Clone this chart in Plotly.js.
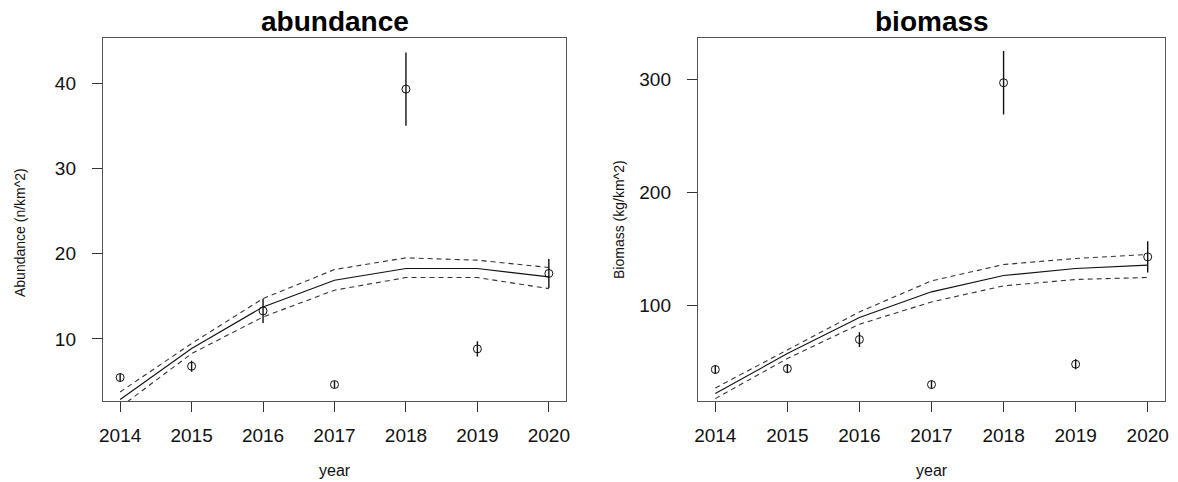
<!DOCTYPE html>
<html>
<head>
<meta charset="utf-8">
<script src="https://cdn.plot.ly/plotly-3.0.1.min.js"></script>
<style>html,body{margin:0;padding:0;background:#fff;}#chart{width:1178px;height:482px;}</style>
</head>
<body>
<div id="chart"></div>
<script>
// ---- data ----
const years = [2014, 2015, 2016, 2017, 2018, 2019, 2020];

// abundance panel
const abundObs    = [5.47, 6.8, 13.29, 4.65, 39.3, 8.83, 17.68];
const abundErr    = [0.5, 0.65, 1.43, 0.4, 4.3, 0.9, 1.7];
const abundFit    = [2.89, 8.87, 13.76, 16.89, 18.26, 18.26, 17.28];
const abundUpper  = [3.78, 9.46, 14.74, 18.14, 19.51, 19.24, 18.38];
const abundLower  = [2.0, 8.28, 12.58, 15.72, 17.2, 17.2, 15.9];

// biomass panel
const bioObs      = [43.5, 44.3, 70.0, 30.2, 296.8, 48.2, 143.0];
const bioErr      = [4, 4, 6.6, 3.5, 28, 4.5, 13.8];
const bioFit      = [22.3, 57.6, 89.4, 112.1, 126.5, 132.7, 135.7];
const bioUpper    = [27.2, 60.5, 94.4, 121.8, 136.2, 141.6, 145.1];
const bioLower    = [17.8, 53.2, 83.5, 103.2, 117.4, 123.0, 124.8];

const abundTicks = [10, 20, 30, 40];
const bioTicks = [100, 200, 300];

const panelTitles = ["abundance", "biomass"];
const yTitles = ["Abundance (n/km^2)", "Biomass (kg/km^2)"];
const xTitle = "year";

// ---- traces ----
function lineTrace(y, xa, ya, dash) {
  return {x: years, y: y, xaxis: xa, yaxis: ya, type: 'scatter', mode: 'lines',
    line: {color: dash ? '#333' : '#111', width: 1.1, dash: dash ? '5px,4px' : 'solid'},
    hoverinfo: 'skip', showlegend: false};
}
function obsTrace(y, err, xa, ya) {
  return {x: years, y: y, xaxis: xa, yaxis: ya, type: 'scatter', mode: 'markers',
    marker: {symbol: 'circle-open', size: 8, color: '#111', line: {width: 1, color: '#111'}},
    error_y: {type: 'data', array: err, visible: true, width: 0, thickness: 1.4, color: '#111'},
    cliponaxis: false, showlegend: false};
}
const data = [
  lineTrace(abundUpper, 'x', 'y', true),
  lineTrace(abundFit, 'x', 'y', false),
  lineTrace(abundLower, 'x', 'y', true),
  obsTrace(abundObs, abundErr, 'x', 'y'),
  lineTrace(bioUpper, 'x2', 'y2', true),
  lineTrace(bioFit, 'x2', 'y2', false),
  lineTrace(bioLower, 'x2', 'y2', true),
  obsTrace(bioObs, bioErr, 'x2', 'y2')
];

const W = 1178, H = 482;
const tickFont = {family: 'Liberation Sans, Arial, sans-serif', size: 19, color: '#111'};
function xAxis(dom, anchor) {
  return {domain: dom, anchor: anchor, range: [2013.76, 2020.24], tickvals: years,
    ticktext: years.map(String), ticks: 'outside', ticklen: 10, tickwidth: 1, tickcolor: '#333',
    showline: true, mirror: true, linecolor: '#555', linewidth: 1.2, showgrid: false, zeroline: false,
    tickfont: tickFont, ticklabelstandoff: 7, fixedrange: true};
}
function yAxis(range, tv, anchor) {
  return {domain: [81 / H, 444 / H], anchor: anchor, range: range, tickvals: tv,
    ticktext: tv.map(String), ticks: 'outside', ticklen: 10, tickwidth: 1, tickcolor: '#333',
    showline: true, mirror: true, linecolor: '#555', linewidth: 1.2, showgrid: false, zeroline: false,
    tickfont: tickFont, ticklabelstandoff: 12, fixedrange: true};
}

const titleFont = {family: 'Liberation Sans, Arial, sans-serif', size: 28, color: '#000', weight: 'bold'};
const axTitleFont = {family: 'Liberation Sans, Arial, sans-serif', size: 14, color: '#111'};

const layout = {
  width: W, height: H,
  margin: {l: 0, r: 0, t: 0, b: 0},
  paper_bgcolor: '#fff', plot_bgcolor: '#fff',
  showlegend: false,
  xaxis: xAxis([103 / W, 566 / W], 'y'),
  yaxis: yAxis([2.72, 45.3], abundTicks, 'x'),
  xaxis2: xAxis([698 / W, 1165 / W], 'y2'),
  yaxis2: yAxis([15.7, 336.3], bioTicks, 'x2'),
  annotations: [
    {text: '<b>' + panelTitles[0] + '</b>', x: 334.5 / W, y: 1 - 22 / H, xref: 'paper', yref: 'paper',
     xanchor: 'center', yanchor: 'middle', showarrow: false, font: titleFont},
    {text: '<b>' + panelTitles[1] + '</b>', x: 931.5 / W, y: 1 - 22 / H, xref: 'paper', yref: 'paper',
     xanchor: 'center', yanchor: 'middle', showarrow: false, font: titleFont},
    {text: xTitle, x: 334.5 / W, y: 1 - 470 / H, xref: 'paper', yref: 'paper',
     xanchor: 'center', yanchor: 'middle', showarrow: false, font: {...axTitleFont, size: 16}},
    {text: xTitle, x: 931.5 / W, y: 1 - 470 / H, xref: 'paper', yref: 'paper',
     xanchor: 'center', yanchor: 'middle', showarrow: false, font: {...axTitleFont, size: 16}},
    {text: yTitles[0], x: 20 / W, y: 1 - 233 / H, xref: 'paper', yref: 'paper', textangle: -90,
     xanchor: 'center', yanchor: 'middle', showarrow: false, font: axTitleFont},
    {text: yTitles[1], x: 619 / W, y: 1 - 220 / H, xref: 'paper', yref: 'paper', textangle: -90,
     xanchor: 'center', yanchor: 'middle', showarrow: false, font: axTitleFont}
  ]
};

Plotly.newPlot('chart', data, layout, {staticPlot: true, displayModeBar: false});
</script>
</body>
</html>
